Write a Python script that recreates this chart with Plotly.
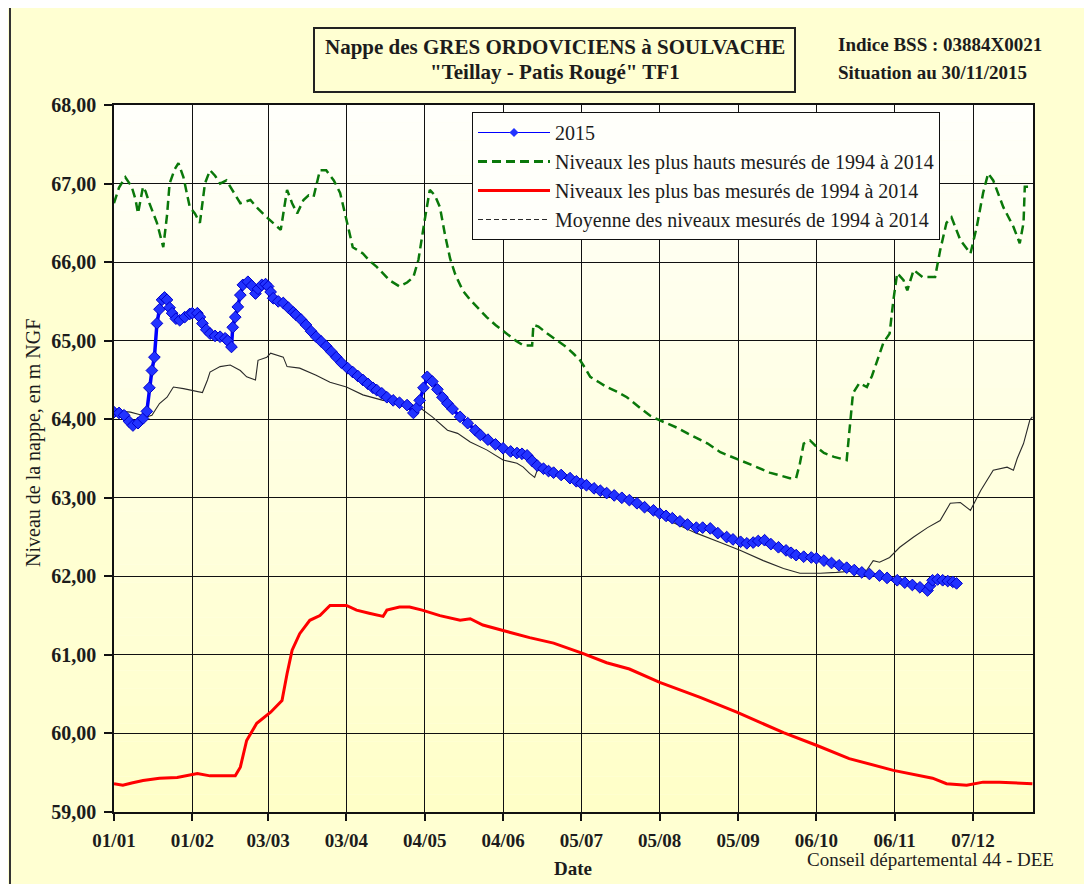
import pandas as pd
import plotly.graph_objects as go

YEAR_START = pd.Timestamp("2015-01-01")

# ---- 2015 levels (day offset from 1 Jan, level in m NGF) ----
days_2015 = [0, 2, 4, 6, 7.5, 9.5, 11.5, 13, 14, 15,
             16, 17, 18, 19, 20, 21, 22, 23, 24.5, 26,
             28, 30, 31, 33, 34, 35, 36.5, 38, 40, 42,
             44, 45, 46.5, 47, 48, 49, 50, 51, 53, 54.5,
             56, 57, 58.5, 60, 61, 62, 63, 65, 67, 69,
             71, 72, 74, 76, 78, 80, 82, 84, 86, 88,
             90, 92.5, 94.5, 96.5, 98.5, 100.5, 102.5, 104, 106, 108,
             110.5, 113, 116, 118.5, 120, 121, 122.5, 124, 126, 128,
             130, 132, 134, 137, 140, 143, 145, 148, 151, 154,
             157, 159.5, 161.5, 163.5, 165.5, 167.5, 170, 172, 174, 177,
             180.5, 183, 185, 187, 190, 192.5, 195, 198, 201, 204,
             207, 210, 213.5, 216, 218.5, 221, 224, 227, 230.5, 233,
             236, 239, 242.5, 245, 248, 250.5, 253, 255, 257.5, 260,
             263, 266, 268, 270, 273, 276, 278, 281, 284, 287,
             290, 293, 296, 299, 303, 306, 310, 313, 316, 319,
             322, 323, 324, 326, 328, 330, 332, 333.5]
level_2015 = [64.09, 64.08, 64.05, 63.97, 63.92, 63.95, 64.01, 64.10, 64.40, 64.62,
              64.79, 65.22, 65.40, 65.52, 65.55, 65.52, 65.42, 65.35, 65.28, 65.26,
              65.30, 65.34, 65.35, 65.35, 65.30, 65.22, 65.14, 65.09, 65.06, 65.05,
              65.03, 65.00, 64.92, 65.17, 65.30, 65.43, 65.58, 65.71, 65.75, 65.70,
              65.60, 65.66, 65.71, 65.72, 65.69, 65.62, 65.54, 65.50, 65.48, 65.42,
              65.36, 65.33, 65.27, 65.20, 65.12, 65.05, 64.99, 64.93, 64.86, 64.79,
              64.72, 64.65, 64.60, 64.55, 64.50, 64.45, 64.40, 64.37, 64.33, 64.28,
              64.24, 64.21, 64.18, 64.08, 64.15, 64.24, 64.40, 64.54, 64.48, 64.38,
              64.28, 64.20, 64.13, 64.03, 63.95, 63.86, 63.80, 63.74, 63.68, 63.63,
              63.59, 63.57, 63.56, 63.54, 63.47, 63.41, 63.37, 63.34, 63.32, 63.29,
              63.25, 63.21, 63.18, 63.16, 63.12, 63.09, 63.06, 63.03, 63.00, 62.97,
              62.93, 62.88, 62.84, 62.80, 62.77, 62.74, 62.70, 62.66, 62.62, 62.62,
              62.61, 62.55, 62.50, 62.47, 62.44, 62.42, 62.43, 62.45, 62.46, 62.41,
              62.37, 62.33, 62.30, 62.27, 62.25, 62.24, 62.23, 62.20, 62.17, 62.14,
              62.11, 62.08, 62.05, 62.03, 62.01, 61.98, 61.95, 61.92, 61.89, 61.86,
              61.82, 61.88, 61.95, 61.96, 61.95, 61.94, 61.93, 61.91]

# ---- highest levels 1994-2014 ----
days_max = [0, 2, 4.5, 7, 8.5, 9.5, 11.5, 12.5, 14, 17,
            19.5, 21, 22, 24, 25.5, 27.5, 29, 30, 32, 34,
            36, 38, 40, 42, 44.5, 47, 50, 54, 57, 60.5,
            63, 66, 68.5, 70.5, 72.5, 75, 77, 79, 81.5, 84,
            87, 89.5, 92, 94.5, 98.5, 101, 104, 107, 109, 113,
            116, 118.5, 120.5, 123, 125, 127, 129, 131, 133, 135,
            138, 141, 144, 147.5, 151, 155.5, 159, 162, 165.5, 166,
            168, 171.5, 175, 179, 182, 184.5, 186.5, 188.5, 192, 195,
            199, 203, 208, 212, 215, 219, 223, 227, 231, 235,
            240, 246.5, 253, 259.5, 264, 267.5, 270, 271.5, 273, 275.5,
            278, 281, 285, 290, 291, 292.5, 295, 298, 300, 302,
            304.5, 307, 308.5, 310, 312.5, 314, 316.5, 320, 325, 327,
            329.5, 331.5, 333, 335, 339, 341.5, 344, 346, 348, 350,
            352, 356, 358.5, 360, 360.5, 363]
level_max = [66.75, 66.95, 67.08, 66.96, 66.80, 66.62, 66.96, 66.90, 66.75, 66.50,
             66.19, 66.60, 67.00, 67.18, 67.26, 67.08, 66.85, 66.70, 66.62, 66.50,
             67.00, 67.17, 67.10, 67.00, 67.04, 66.90, 66.75, 66.79, 66.68, 66.57,
             66.50, 66.41, 66.92, 66.75, 66.62, 66.79, 66.85, 66.83, 67.17, 67.17,
             67.04, 66.88, 66.54, 66.19, 66.11, 66.02, 65.94, 65.83, 65.77, 65.69,
             65.74, 65.81, 66.03, 66.54, 66.92, 66.85, 66.70, 66.35, 66.05, 65.85,
             65.64, 65.52, 65.42, 65.30, 65.20, 65.09, 65.00, 64.94, 64.94, 65.20,
             65.18, 65.09, 65.01, 64.92, 64.83, 64.75, 64.65, 64.54, 64.47, 64.41,
             64.35, 64.28, 64.15, 64.05, 64.00, 63.95, 63.89, 63.82, 63.76, 63.69,
             63.58, 63.50, 63.41, 63.32, 63.28, 63.25, 63.25, 63.44, 63.69, 63.73,
             63.65, 63.57, 63.52, 63.48, 63.82, 64.33, 64.46, 64.41, 64.55, 64.75,
             64.97, 65.09, 65.52, 65.86, 65.77, 65.64, 65.90, 65.81, 65.81, 66.15,
             66.50, 66.57, 66.45, 66.28, 66.11, 66.45, 66.88, 67.13, 67.04, 66.88,
             66.70, 66.45, 66.24, 66.50, 66.96, 66.96]

# ---- lowest levels 1994-2014 ----
days_min = [0, 3.5, 7, 11.5, 18, 25, 33, 38, 48, 50,
            52.5, 56.5, 62, 66.5, 68.5, 70.5, 73.5, 77.5, 81.5, 85.5,
            92, 96, 101, 106.5, 108, 113, 117, 122, 129, 137,
            141, 146, 154, 164.5, 174, 185.5, 195, 204, 216, 232,
            246.5, 265, 278, 291, 308.5, 324, 329.5, 337.5, 344, 350.5,
            363.5]
level_min = [59.36, 59.34, 59.37, 59.40, 59.43, 59.44, 59.49, 59.46, 59.46, 59.57,
             59.91, 60.13, 60.27, 60.42, 60.76, 61.06, 61.27, 61.44, 61.50, 61.63,
             61.63, 61.57, 61.53, 61.49, 61.57, 61.61, 61.61, 61.57, 61.50, 61.44,
             61.46, 61.38, 61.31, 61.22, 61.15, 61.02, 60.90, 60.82, 60.65, 60.46,
             60.27, 60.01, 59.85, 59.68, 59.53, 59.43, 59.36, 59.34, 59.38, 59.38,
             59.36]

# ---- mean levels 1994-2014 ----
days_mean = [0, 3, 6.5, 10, 13, 15, 18, 21, 23.5, 27.5,
             31, 35, 37, 38, 42, 46, 50, 52.5, 56, 57,
             60.5, 62, 67, 68.5, 73.5, 80, 85.5, 92, 98.5, 106.5,
             114.5, 121, 126, 132, 136, 141, 147.5, 154, 159.5, 162,
             164.5, 166.5, 167.5, 174, 180.5, 187, 195, 204, 213.5, 221,
             230.5, 240, 248, 257, 265, 271.5, 279.5, 286, 298, 300.5,
             303, 307, 311, 316.5, 322, 327, 331, 335, 339, 343,
             348, 353.5, 356, 357.5, 360, 362.5, 363.5]
level_mean = [64.11, 64.10, 64.09, 64.06, 64.03, 64.05, 64.20, 64.28, 64.41, 64.39,
              64.37, 64.34, 64.50, 64.60, 64.67, 64.69, 64.62, 64.54, 64.50, 64.75,
              64.79, 64.84, 64.79, 64.67, 64.65, 64.56, 64.47, 64.41, 64.31, 64.24,
              64.22, 64.15, 64.03, 63.86, 63.82, 63.71, 63.61, 63.48, 63.44, 63.39,
              63.31, 63.26, 63.35, 63.31, 63.22, 63.13, 63.06, 62.94, 62.80, 62.69,
              62.55, 62.43, 62.33, 62.20, 62.10, 62.04, 62.04, 62.05, 62.08, 62.20,
              62.18, 62.24, 62.37, 62.50, 62.62, 62.71, 62.93, 62.94, 62.84, 63.09,
              63.35, 63.39, 63.35, 63.50, 63.69, 63.99, 64.03]

# ---- axis ticks ----
tick_dates = ["2015-01-01", "2015-02-01", "2015-03-03", "2015-04-03", "2015-05-04", "2015-06-04",
              "2015-07-05", "2015-08-05", "2015-09-05", "2015-10-06", "2015-11-06", "2015-12-07"]
tick_labels = ["01/01", "01/02", "03/03", "03/04", "04/05", "04/06",
               "05/07", "05/08", "05/09", "06/10", "06/11", "07/12"]
y_ticks = [59, 60, 61, 62, 63, 64, 65, 66, 67, 68]

series_names = ["2015",
                "Niveaux les plus hauts mesurés de 1994 à 2014",
                "Niveaux les plus bas mesurés de 1994 à 2014",
                "Moyenne des niveaux mesurés de 1994 à 2014"]


def to_dates(days):
    return YEAR_START + pd.to_timedelta(days, unit="D")


# page offset of the figure inside the browser page (body margin)
OFF = 8
W, H = 1092 - OFF, 884 - OFF
# plot area in screen pixels
SL, SR, ST, SB = 114, 1033, 105, 812
L, R, T, B = SL - OFF, SR - OFF, ST - OFF, SB - OFF
SERIF = "Liberation Serif"
INK = "#1c1c1c"


def px(x):
    """screen x pixel -> paper x"""
    return (x - SL) / (SR - SL)


def py(y):
    """screen y pixel -> paper y"""
    return (SB - y) / (SB - ST)


BLUE = "#0000ff"
GREEN = "#0a780a"
RED = "#ff0000"
MEAN = "#2a2a2a"

fig = go.Figure()

# real traces
fig.add_trace(go.Scatter(x=to_dates(days_mean), y=level_mean, mode="lines",
                         line=dict(color=MEAN, width=1.1), showlegend=False,
                         name=series_names[3]))
fig.add_trace(go.Scatter(x=to_dates(days_max), y=level_max, mode="lines",
                         line=dict(color=GREEN, width=2.5, dash="9px,5px"),
                         showlegend=False, name=series_names[1]))
fig.add_trace(go.Scatter(x=to_dates(days_min), y=level_min, mode="lines",
                         line=dict(color=RED, width=3), showlegend=False,
                         name=series_names[2]))
fig.add_trace(go.Scatter(x=to_dates(days_2015), y=level_2015, mode="lines+markers",
                         line=dict(color=BLUE, width=3.5),
                         marker=dict(symbol="diamond", size=9, color="#2233ff",
                                     line=dict(color="#0000cc", width=1)),
                         showlegend=False, name=series_names[0]))

# legend entries
fig.add_trace(go.Scatter(x=[None], y=[None], mode="lines+markers", name=series_names[0],
                         line=dict(color=BLUE, width=1),
                         marker=dict(symbol="diamond", size=7, color="#2233ff")))
fig.add_trace(go.Scatter(x=[None], y=[None], mode="lines", name=series_names[1],
                         line=dict(color=GREEN, width=3, dash="9px,5px")))
fig.add_trace(go.Scatter(x=[None], y=[None], mode="lines", name=series_names[2],
                         line=dict(color=RED, width=3)))
fig.add_trace(go.Scatter(x=[None], y=[None], mode="lines", name=series_names[3],
                         line=dict(color=MEAN, width=1, dash="5px,3px")))

# plot background gradient (white at top to light yellow at bottom)
shapes = []
N = 40
for i in range(N):
    f = i / (N - 1)
    b = int(round(250 - (250 - 200) * (1 - f)))
    shapes.append(dict(type="rect", xref="paper", yref="paper",
                       x0=0, x1=1, y0=i / N, y1=(i + 1) / N,
                       fillcolor=f"rgb(255,255,{b})", line=dict(width=0),
                       layer="below"))
# title box
shapes.append(dict(type="rect", xref="paper", yref="paper",
                   x0=px(314), x1=px(795), y0=py(92), y1=py(28),
                   line=dict(color="#222", width=2), fillcolor="rgba(0,0,0,0)"))
# outer frame
shapes.append(dict(type="line", xref="paper", yref="paper",
                   x0=px(10), x1=px(10), y0=py(900), y1=py(5),
                   line=dict(color="#333", width=2)))
shapes.append(dict(type="line", xref="paper", yref="paper",
                   x0=px(10), x1=px(1100), y0=py(5), y1=py(5),
                   line=dict(color="#333", width=2)))

bold = dict(family=SERIF, size=21, color=INK, weight="bold")
annotations = [
    dict(text="Nappe des GRES ORDOVICIENS à SOULVACHE", x=px(555), y=py(47),
         font=bold),
    dict(text="\"Teillay - Patis Rougé\" TF1", x=px(555), y=py(72), font=bold),
    dict(text="Indice BSS : 03884X0021", x=px(836), y=py(45), xanchor="left",
         font=dict(family=SERIF, size=19, color=INK, weight="bold")),
    dict(text="Situation au 30/11/2015", x=px(836), y=py(72), xanchor="left",
         font=dict(family=SERIF, size=19, color=INK, weight="bold")),
    dict(text="Niveau de la nappe, en m NGF", x=px(33), y=py(443), textangle=-90,
         font=dict(family=SERIF, size=20, color=INK)),
    dict(text="Date", x=px(573), y=py(868),
         font=dict(family=SERIF, size=19, color=INK, weight="bold")),
    dict(text="Conseil départemental 44 - DEE", x=px(805), y=py(860), xanchor="left",
         font=dict(family=SERIF, size=19, color=INK)),
]
for a in annotations:
    a.update(xref="paper", yref="paper", showarrow=False)
    a.setdefault("xanchor", "center")
    a.setdefault("yanchor", "middle")

axis_common = dict(showline=True, linecolor="#111", linewidth=1.5, mirror=True,
                   showgrid=True, gridcolor="#111", gridwidth=1.3, zeroline=False,
                   ticks="outside", tickcolor="#111", tickwidth=1.5)

fig.update_layout(
    width=W, height=H,
    margin=dict(l=L, r=W - R, t=T, b=H - B, pad=0),
    paper_bgcolor="#ffffd2",
    plot_bgcolor="#ffffe8",
    separators=", ",
    font=dict(family=SERIF, color=INK),
    xaxis=dict(type="date", range=["2015-01-01", "2015-12-30 18:00"],
               tickvals=tick_dates, ticktext=tick_labels, ticklen=7,
               ticklabelstandoff=3,
               tickfont=dict(family=SERIF, size=19, color=INK, weight="bold"),
               **axis_common),
    yaxis=dict(range=[59, 68], tickvals=y_ticks, tickformat=".2f", ticklen=8,
               ticklabelstandoff=4,
               tickfont=dict(family=SERIF, size=20, color=INK, weight="bold"),
               **axis_common),
    legend=dict(x=px(472), y=py(112), xanchor="left", yanchor="top",
                bgcolor="#fffffa", bordercolor="#111", borderwidth=1,
                font=dict(family=SERIF, size=20, color=INK),
                itemwidth=72, tracegroupgap=0),
    shapes=shapes,
    annotations=annotations,
    showlegend=True,
)

fig.write_html("out.html")
